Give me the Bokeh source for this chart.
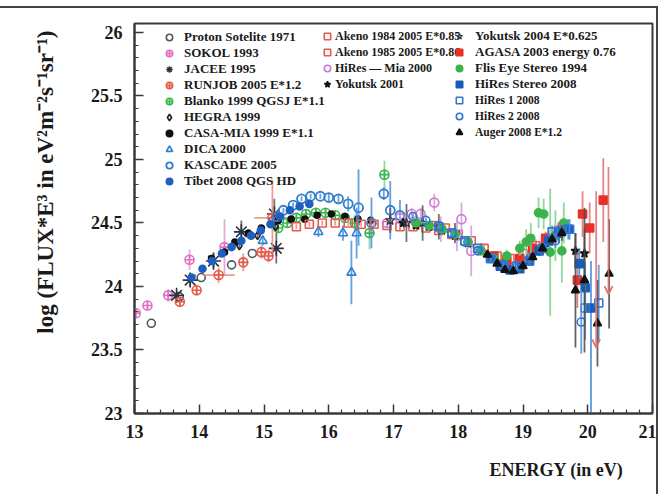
from bokeh.plotting import figure
from bokeh.models import (Range1d, FixedTicker, Legend, LegendItem, Title,
                          ColumnDataSource, Arrow, OpenHead)
from bokeh.embed import file_html
from bokeh.resources import INLINE

# ---------------- data ----------------
x_ticks = [13, 14, 15, 16, 17, 18, 19, 20, 21]
x_tick_labels = ["13", "14", "15", "16", "17", "18", "19", "20", "21"]
y_ticks = [23, 23.5, 24, 24.5, 25, 25.5, 26]
y_tick_labels = ["23", "23.5", "24", "24.5", "25", "25.5", "26"]

proton_x = [13.26, 13.69, 14.03, 14.5, 14.82]
proton_y = [23.71, 23.92, 24.07, 24.17, 24.26]
proton_err = [0.0, 0.0, 0.0, 0.0, 0.0]

sokol_x = [13.02, 13.2, 13.52, 13.85, 14.39]
sokol_y = [23.79, 23.85, 23.93, 24.21, 24.31]
sokol_err = [0.03, 0.04, 0.05, 0.08, 0.22]

jacee_x = [13.65, 13.86, 14.22, 14.65, 15.16, 15.19]
jacee_y = [23.93, 24.05, 24.2, 24.43, 24.57, 24.30]
jacee_err = [0.03, 0.05, 0.07, 0.09, 0.12, 0.12]

runjob_x = [13.7, 13.96, 14.3, 14.68, 14.96, 15.07, 15.13]
runjob_y = [23.88, 23.97, 24.09, 24.19, 24.27, 24.24, 24.54]
runjob_err = [0.03, 0.04, 0.06, 0.07, 0.05, 0.05, 0.3]
runjob_xerr = [0.0, 0.0, 0.25, 0.0, 0.0, 0.0, 0.28]

blanko_x = [15.22, 15.36, 15.5, 15.65, 15.8, 15.95, 16.1, 16.25, 16.4, 16.63, 16.86]
blanko_y = [24.46, 24.5, 24.54, 24.57, 24.58, 24.58, 24.56, 24.54, 24.5, 24.42, 24.88]
blanko_err = [0.02, 0.02, 0.02, 0.02, 0.03, 0.03, 0.03, 0.04, 0.06, 0.13, 0.11]

hegra_x = [14.62, 14.9, 15.18]
hegra_y = [24.32, 24.4, 24.47]
hegra_err = [0.02, 0.02, 0.02]

casa_x = [14.19, 14.39, 14.55, 14.76, 14.96, 15.22, 15.42, 15.63, 15.82, 16.04, 16.25, 16.45, 16.65]
casa_y = [24.22, 24.27, 24.35, 24.42, 24.46, 24.52, 24.53, 24.53, 24.56, 24.57, 24.55, 24.53, 24.52]
casa_err = [0.0] * 13

dica_x = [14.98, 15.84, 16.22, 16.35, 16.43]
dica_y = [24.36, 24.43, 24.42, 24.11, 24.42]
dica_err = [0.04, 0.04, 0.06, 0.25, 0.2]

kascade_x = [15.2, 15.3, 15.45, 15.58, 15.72, 15.87, 16.0, 16.15, 16.3, 16.46, 16.66, 16.85, 16.95, 17.1]
kascade_y = [24.55, 24.6, 24.64, 24.69, 24.71, 24.71, 24.7, 24.69, 24.65, 24.62, 24.5, 24.73, 24.6, 24.56]
kascade_err = [0.02, 0.02, 0.02, 0.02, 0.02, 0.02, 0.03, 0.03, 0.06, 0.3, 0.2, 0.05, 0.23, 0.12]

tibet_x = [13.88, 14.05, 14.2, 14.35, 14.5, 14.65, 14.8, 14.95, 15.1, 15.25, 15.4, 15.55, 15.7]
tibet_y = [24.07, 24.14, 24.2, 24.26, 24.31, 24.36, 24.4, 24.44, 24.49, 24.55, 24.6, 24.63, 24.65]
tibet_err = [0.0] * 13

akeno84_x = [15.5, 15.7, 15.9, 16.1, 16.3, 16.5, 16.7, 16.9, 17.1, 17.3, 17.5, 17.7, 17.9]
akeno84_y = [24.47, 24.49, 24.5, 24.5, 24.5, 24.49, 24.49, 24.48, 24.47, 24.47, 24.46, 24.44, 24.41]
akeno84_err = [0.02] * 13

akeno85_x = [17.6, 17.8, 18.0, 18.2, 18.4, 18.6, 18.8, 19.0, 19.2, 19.4]
akeno85_y = [24.48, 24.46, 24.41, 24.36, 24.3, 24.24, 24.22, 24.26, 24.32, 24.38]
akeno85_err = [0.02, 0.02, 0.02, 0.02, 0.03, 0.03, 0.03, 0.04, 0.05, 0.06]

hiresmia_x = [16.9, 17.1, 17.28, 17.42, 17.63, 17.73, 17.98, 18.05, 18.2]
hiresmia_y = [24.5, 24.54, 24.57, 24.57, 24.66, 24.45, 24.4, 24.53, 24.28]
hiresmia_err = [0.03, 0.04, 0.05, 0.05, 0.07, 0.1, 0.12, 0.13, 0.2]

yak01_x = [17.15, 17.35, 17.55, 17.75, 17.95, 18.15, 18.35, 18.55, 18.75, 18.95, 19.15, 19.35, 19.55, 19.81, 19.95]
yak01_y = [24.5, 24.48, 24.47, 24.44, 24.4, 24.34, 24.28, 24.22, 24.17, 24.17, 24.26, 24.34, 24.42, 24.28, 24.26]
yak01_err = [0.03, 0.03, 0.03, 0.03, 0.03, 0.03, 0.03, 0.03, 0.04, 0.04, 0.05, 0.06, 0.08, 0.14, 0.2]

yak04_x = [16.95, 17.2, 17.45, 17.7, 17.95]
yak04_y = [24.52, 24.5, 24.5, 24.47, 24.42]
yak04_err = [0.1, 0.15, 0.14, 0.1, 0.08]

agasa_x = [18.55, 18.75, 18.95, 19.15, 19.35, 19.55, 19.84, 19.92, 20.03, 20.24]
agasa_y = [24.24, 24.2, 24.22, 24.3, 24.38, 24.44, 24.05, 24.57, 24.46, 24.68]
agasa_err = [0.02, 0.02, 0.03, 0.04, 0.05, 0.07, 0.22, 0.18, 0.2, 0.33]
agasa_ul_x = [20.13, 20.32]
agasa_ul_top = [24.75, 24.94]
agasa_ul_bottom = [23.52, 23.94]

fly_x = [17.35, 17.55, 17.75, 17.95, 18.15, 18.35, 18.55, 18.75, 18.95, 19.05, 19.12, 19.24, 19.32, 19.42, 19.5, 19.6, 19.63]
fly_y = [24.5, 24.48, 24.45, 24.41, 24.35, 24.28, 24.22, 24.24, 24.3, 24.35, 24.38, 24.58, 24.57, 24.27, 24.4, 24.28, 24.5]
fly_err = [0.02, 0.02, 0.02, 0.03, 0.03, 0.03, 0.04, 0.05, 0.06, 0.1, 0.12, 0.12, 0.12, 0.5, 0.2, 0.25, 0.16]

hst_x = [18.5, 18.65, 18.8, 18.95, 19.1, 19.25, 19.4, 19.55, 19.7, 19.87, 19.96, 20.05]
hst_y = [24.22, 24.16, 24.13, 24.14, 24.2, 24.28, 24.36, 24.42, 24.45, 24.18, 23.99, 23.83]
hst_err_lo = [0.02, 0.02, 0.02, 0.03, 0.03, 0.04, 0.05, 0.06, 0.08, 0.12, 0.2, 0.9]
hst_err_hi = [0.02, 0.02, 0.02, 0.03, 0.03, 0.04, 0.05, 0.06, 0.08, 0.12, 0.2, 0.37]

hr1_x = [17.7, 17.9, 18.1, 18.3, 18.5, 18.7, 18.9, 19.1, 19.3, 19.45, 19.6, 19.72, 19.96, 20.17]
hr1_y = [24.47, 24.42, 24.36, 24.3, 24.22, 24.17, 24.16, 24.2, 24.3, 24.43, 24.44, 24.45, 23.83, 23.87]
hr1_err = [0.02, 0.02, 0.02, 0.02, 0.02, 0.02, 0.03, 0.03, 0.04, 0.05, 0.06, 0.08, 0.25, 0.3]

hr2_x = [17.3, 17.5, 17.7, 17.9, 18.1, 18.3, 18.5, 18.7, 18.9, 19.1, 19.3, 19.5, 19.9]
hr2_y = [24.55, 24.52, 24.48, 24.42, 24.35, 24.28, 24.22, 24.16, 24.15, 24.22, 24.3, 24.36, 23.72]
hr2_err = [0.02, 0.02, 0.02, 0.02, 0.02, 0.02, 0.03, 0.03, 0.03, 0.04, 0.05, 0.06, 0.25]

auger_x = [18.45, 18.6, 18.72, 18.85, 19.0, 19.15, 19.3, 19.45, 19.6, 19.81, 19.95, 20.15, 20.33]
auger_y = [24.25, 24.18, 24.13, 24.12, 24.16, 24.23, 24.3, 24.37, 24.42, 23.97, 24.05, 23.71, 24.1]
auger_err = [0.02, 0.02, 0.02, 0.02, 0.03, 0.03, 0.04, 0.05, 0.06, 0.45, 0.57, 0.34, 0.43]

# ---------------- figure ----------------
SERIF = "Liberation Serif"
DARK = "#3a3a3a"

p = figure(frame_width=518, frame_height=390,
           min_border_left=133, min_border_right=4,
           min_border_top=15, min_border_bottom=78,
           x_range=Range1d(13, 21), y_range=Range1d(23, 26.07),
           output_backend="svg", toolbar_location=None)
p.styles = {"border-top": "2px solid #444444", "border-right": "2px solid #444444",
            "margin-top": "6px"}
p.xgrid.visible = False
p.ygrid.visible = False
p.background_fill_color = "white"
p.border_fill_color = "white"
p.outline_line_color = DARK
p.outline_line_width = 2
p.outline_line_alpha = 1

x_minor = [t + k * 0.2 for t in x_ticks[:-1] for k in range(1, 5)]
y_minor = [t + k * 0.1 for t in y_ticks[:-1] for k in range(1, 5)]
p.xaxis.ticker = FixedTicker(ticks=x_ticks, minor_ticks=x_minor)
p.yaxis.ticker = FixedTicker(ticks=y_ticks, minor_ticks=y_minor)
p.xaxis.major_label_overrides = {t: s for t, s in zip(x_ticks, x_tick_labels)}
p.yaxis.major_label_overrides = {t: s for t, s in zip(y_ticks, y_tick_labels)}
for ax in (p.xaxis, p.yaxis):
    ax.axis_line_color = DARK
    ax.axis_line_width = 2
    ax.major_tick_line_color = DARK
    ax.minor_tick_line_color = DARK
    ax.major_tick_line_width = 1.5
    ax.minor_tick_line_width = 1.2
    ax.major_tick_in = 9
    ax.major_tick_out = 0
    ax.minor_tick_in = 4
    ax.minor_tick_out = 0
    ax.major_label_text_font = SERIF
    ax.major_label_text_font_style = "bold"
    ax.major_label_text_font_size = "18px"
    ax.major_label_text_color = "#1a1a1a"
p.xaxis.major_label_standoff = 11
p.yaxis.major_label_standoff = 12

# axis titles as side-panel titles (allow offsets like the reference)
p.add_layout(Title(text="log (FLUX*E³ in eV²m⁻²s⁻¹sr⁻¹)", align="right", offset=7,
                   standoff=60, vertical_align="bottom",
                   text_font=SERIF, text_font_style="bold", text_font_size="23px",
                   text_color="#1a1a1a"), "left")
p.add_layout(Title(text="ENERGY (in eV)", align="right", offset=29, standoff=35,
                   text_font=SERIF, text_font_style="bold", text_font_size="18px",
                   text_color="#1a1a1a"), "below")


def add_series(x, y, elo, ehi, marker, color, fill, size, ecolor, lw=1.6, xerr=None):
    y0 = [a - b for a, b in zip(y, elo)]
    y1 = [a + b for a, b in zip(y, ehi)]
    data = dict(x=x, y=y, y0=y0, y1=y1)
    if xerr is not None:
        data["x0"] = [a - b for a, b in zip(x, xerr)]
        data["x1"] = [a + b for a, b in zip(x, xerr)]
    src = ColumnDataSource(data)
    p.segment(x0="x", y0="y0", x1="x", y1="y1", source=src,
              line_color=ecolor, line_width=1.8, line_alpha=0.85)
    if xerr is not None:
        p.segment(x0="x0", y0="y", x1="x1", y1="y", source=src,
                  line_color=ecolor, line_width=1.8, line_alpha=0.85)
    r = p.scatter(x="x", y="y", source=src, marker=marker, size=size,
                  line_color=color, fill_color=fill, line_width=lw)
    return r


r_proton = add_series(proton_x, proton_y, proton_err, proton_err, "circle", "#4f5660", None, 8, "#7a8088")
r_sokol = add_series(sokol_x, sokol_y, sokol_err, sokol_err, "circle_cross", "#e070c4", None, 9, "#e29ad6")
r_jacee = add_series(jacee_x, jacee_y, jacee_err, jacee_err, "asterisk", "#2b3140", None, 15, "#555a66", lw=1.6)
r_runjob = add_series(runjob_x, runjob_y, runjob_err, runjob_err, "circle_cross", "#e65a4c", None, 9, "#ec8a80", xerr=runjob_xerr)
r_blanko = add_series(blanko_x, blanko_y, blanko_err, blanko_err, "circle_cross", "#3cb44b", None, 9, "#7fcf8a")
r_hegra = add_series(hegra_x, hegra_y, hegra_err, hegra_err, "diamond", "#222222", None, 8, "#555555")
r_casa = add_series(casa_x, casa_y, casa_err, casa_err, "circle", "#111111", "#111111", 6, "#555555")
r_dica = add_series(dica_x, dica_y, dica_err, dica_err, "triangle", "#2f7fd0", None, 9, "#4a90d8")
r_kascade = add_series(kascade_x, kascade_y, kascade_err, kascade_err, "circle", "#2f7fd0", None, 9, "#4a90d8", lw=1.8)
r_tibet = add_series(tibet_x, tibet_y, tibet_err, tibet_err, "circle", "#1f5fbf", "#1f5fbf", 7, "#4a90d8")
r_ak84 = add_series(akeno84_x, akeno84_y, akeno84_err, akeno84_err, "square", "#e55a50", None, 8, "#ec8a80")
r_ak85 = add_series(akeno85_x, akeno85_y, akeno85_err, akeno85_err, "square", "#e55a50", None, 8, "#ec8a80")
r_hmia = add_series(hiresmia_x, hiresmia_y, hiresmia_err, hiresmia_err, "circle", "#cc7bd0", None, 9, "#d69ad9")
r_yak01 = add_series(yak01_x, yak01_y, yak01_err, yak01_err, "star", "#111111", "#111111", 9, "#555555")
r_yak04 = add_series(yak04_x, yak04_y, yak04_err, yak04_err, "star", "#333a48", None, 10, "#555a66", lw=1.2)
r_agasa = add_series(agasa_x, agasa_y, agasa_err, agasa_err, "square", "#e8302a", "#e8302a", 8, "#e07070")
r_fly = add_series(fly_x, fly_y, fly_err, fly_err, "circle", "#3cb44b", "#3cb44b", 8, "#7fcf8a")
r_hst = add_series(hst_x, hst_y, hst_err_lo, hst_err_hi, "square", "#1a5cb8", "#1a5cb8", 8, "#3a8ad8")
r_hr1 = add_series(hr1_x, hr1_y, hr1_err, hr1_err, "square", "#2f78d0", None, 8, "#4a90d8")
r_hr2 = add_series(hr2_x, hr2_y, hr2_err, hr2_err, "circle", "#2f78d0", None, 8, "#4a90d8")
r_auger = add_series(auger_x, auger_y, auger_err, auger_err, "triangle", "#111111", "#111111", 8, "#4a4a4a")

ul_src = ColumnDataSource(dict(x=agasa_ul_x, top=agasa_ul_top, bottom=agasa_ul_bottom))
p.add_layout(Arrow(end=OpenHead(size=8, line_color="#e07070", line_width=1.8),
                   x_start="x", y_start="top", x_end="x", y_end="bottom",
                   source=ul_src, line_color="#e07070", line_width=1.8, line_alpha=0.85))


# ---------------- legends ----------------
def make_legend(items, loc, standoff, fsize):
    leg = Legend(items=[LegendItem(label=n, renderers=[r]) for n, r in items],
                 location=loc, orientation="vertical",
                 glyph_width=16, glyph_height=16, label_height=16,
                 spacing=0, label_standoff=standoff,
                 padding=0, margin=0, border_line_color=None,
                 background_fill_alpha=0,
                 label_text_font=SERIF, label_text_font_style="bold",
                 label_text_font_size=fsize, label_text_color="#1a1a1a")
    p.add_layout(leg)


make_legend([("Proton Sotelite 1971", r_proton), ("SOKOL 1993", r_sokol),
             ("JACEE 1995", r_jacee), ("RUNJOB 2005 E*1.2", r_runjob),
             ("Blanko 1999 QGSJ E*1.1", r_blanko), ("HEGRA 1999", r_hegra),
             ("CASA-MIA 1999 E*1.1", r_casa), ("DICA 2000", r_dica),
             ("KASCADE 2005", r_kascade), ("Tibet 2008 QGS HD", r_tibet)],
            (27, 224), 7, "13px")
make_legend([("Akeno 1984 2005 E*0.85", r_ak84), ("Akeno 1985 2005 E*0.86", r_ak85),
             ("HiRes — Mia 2000", r_hmia), ("Yokutsk 2001", r_yak01)],
            (185, 321), 0, "12px")
make_legend([("Yokutsk 2004 E*0.625", r_yak04), ("AGASA 2003 energy 0.76", r_agasa),
             ("Flis Eye Stereo 1994", r_fly), ("HiRes Stereo 2008", r_hst)],
            (317, 321), 8, "13px")
make_legend([("HiRes 1 2008", r_hr1), ("HiRes 2 2008", r_hr2),
             ("Auger 2008 E*1.2", r_auger)],
            (317, 273), 8, "11.5px")

open("out.html", "w").write(file_html(p, INLINE))
